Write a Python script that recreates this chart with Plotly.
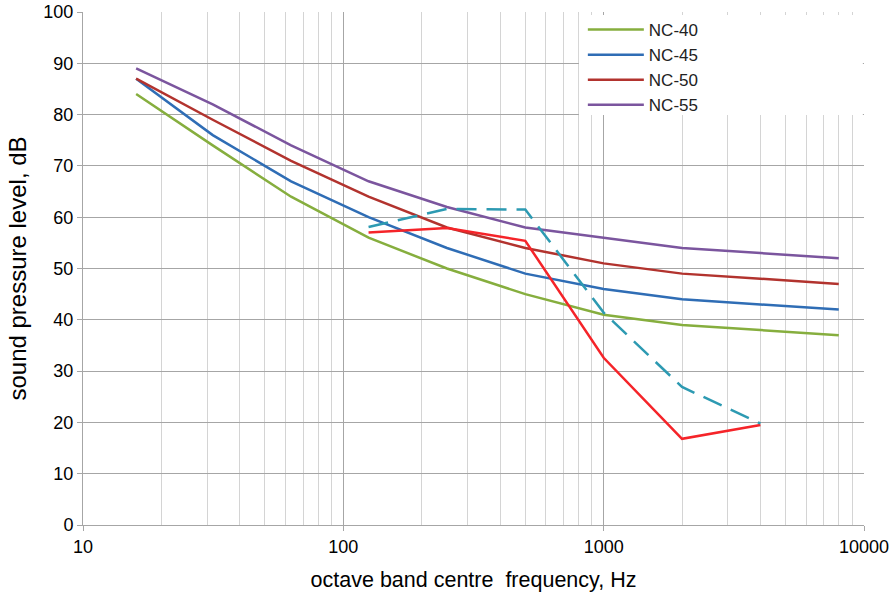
import plotly.graph_objects as go

freq = [16, 31.5, 63, 125, 250, 500, 1000, 2000, 4000, 8000]
nc40 = [84, 74, 64, 56, 50, 45, 41, 39, 38, 37]
nc45 = [87, 76, 67, 60, 54, 49, 46, 44, 43, 42]
nc50 = [87, 79, 71, 64, 58, 54, 51, 49, 48, 47]
nc55 = [89, 82, 74, 67, 62, 58, 56, 54, 53, 52]

meas_freq = [125, 250, 500, 1000, 2000, 4000]
meas_red = [57.0, 57.9, 55.4, 32.6, 16.8, 19.5]
meas_teal = [58.1, 61.6, 61.5, 41.4, 26.9, 19.8]

fig = go.Figure()
nc_series = [("NC-40", nc40, "#86AE3E"), ("NC-45", nc45, "#2F6DB5"),
             ("NC-50", nc50, "#B2332E"), ("NC-55", nc55, "#7B559E")]
for name, vals, col in nc_series:
    fig.add_trace(go.Scatter(x=freq, y=vals, mode="lines", name=name,
                             line=dict(color=col, width=2.5)))

fig.add_trace(go.Scatter(x=meas_freq, y=meas_red, mode="lines", showlegend=False,
                         line=dict(color="#F52429", width=2.5)))
fig.add_trace(go.Scatter(x=meas_freq, y=meas_teal, mode="lines", showlegend=False,
                         line=dict(color="#2D9AB2", width=2.5, dash="20px,10px")))

# white legend box (covers gridlines behind the legend, as in the original)
fig.add_shape(type="rect", xref="paper", yref="paper",
              x0=0.635, x1=0.9985, y0=0.799, y1=0.994,
              fillcolor="white", line=dict(width=0), layer="above")

font = "Liberation Sans, Arial, sans-serif"
fig.update_layout(
    width=890, height=599,
    margin=dict(l=83, r=26, t=12, b=74),
    paper_bgcolor="white", plot_bgcolor="white",
    font=dict(family=font, size=18, color="#000000"),
    legend=dict(x=0.640, y=1, xanchor="left", yanchor="top",
                bgcolor="rgba(0,0,0,0)", borderwidth=0,
                font=dict(size=17, color="#222222"),
                itemwidth=56, tracegroupgap=0),
    showlegend=True,
)
fig.update_xaxes(
    type="log", range=[1, 4], dtick=1, automargin=False,
    tickvals=[10, 100, 1000, 10000], ticktext=["10", "100", "1000", "10000"],
    showgrid=True, gridcolor="#A6A6A6", gridwidth=1,
    minor=dict(dtick="D1", showgrid=True, gridcolor="#D4D4D4", gridwidth=1),
    showline=True, linecolor="#A6A6A6", linewidth=1,
    ticks="outside", ticklen=5, tickcolor="#A6A6A6",
    zeroline=False,
    title=dict(text="octave band centre  frequency, Hz", font=dict(size=21.5), standoff=16),
    tickfont=dict(size=18),
)
fig.update_yaxes(
    range=[0, 100], dtick=10, automargin=False,
    showgrid=True, gridcolor="#A6A6A6", gridwidth=1,
    showline=True, linecolor="#A6A6A6", linewidth=1,
    ticks="outside", ticklen=5, tickcolor="#A6A6A6",
    zeroline=False,
    title=dict(text="sound pressure level, dB", font=dict(size=24), standoff=9),
    tickfont=dict(size=18),
)
fig.write_html("out.html", config={"displayModeBar": False},
               post_script="document.body.style.margin='0';")
